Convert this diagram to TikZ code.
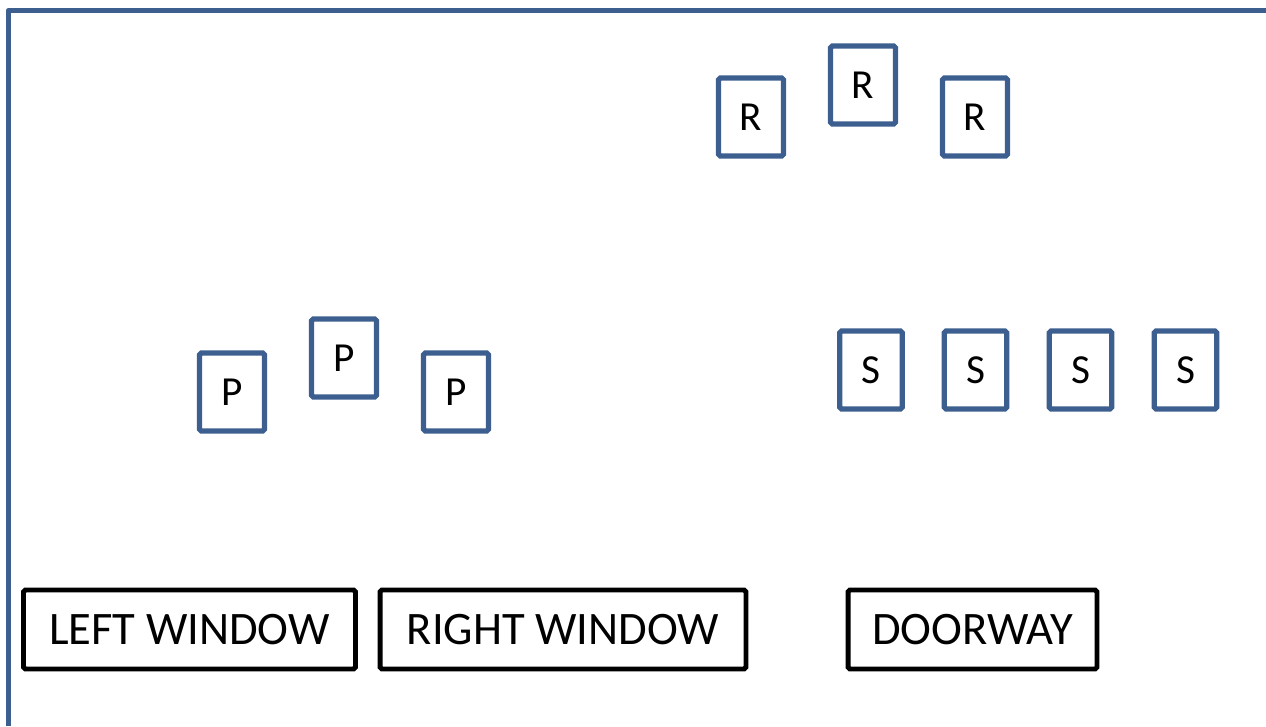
\documentclass[tikz,border=0pt]{standalone}
\usepackage{fontspec}
\setmainfont{Carlito}
\definecolor{wallblue}{HTML}{3C5F8F}

\begin{document}
\begin{tikzpicture}[x=0.02cm, y=-0.02cm,
  seat/.style={draw=wallblue, line width=3pt, rounded corners=1pt, minimum width=1.3cm, minimum height=1.56cm, inner sep=0pt, font=\fontsize{23.5}{27}\selectfont},
  opening/.style={draw=black, line width=2.8pt, rounded corners=1pt, minimum height=1.58cm, inner sep=0pt, font=\fontsize{26.5}{30}\selectfont}]
\useasboundingbox (0,0) rectangle (1266,726);
\draw[wallblue, line width=3.3pt, line join=round] (8.5,726) -- (8.5,10.5) -- (1266,10.5);
\node[seat] (r1) at (751,117) {R};
\node[seat] (r2) at (863,85) {R};
\node[seat] (r3) at (975,117) {R};
\node[seat] (p1) at (232,392) {P};
\node[seat] (p2) at (344,358) {P};
\node[seat] (p3) at (456,392) {P};
\node[seat, minimum width=1.25cm] (s1) at (871,370) {S};
\node[seat, minimum width=1.25cm] (s2) at (975.5,370) {S};
\node[seat, minimum width=1.25cm] (s3) at (1080.5,370) {S};
\node[seat, minimum width=1.25cm] (s4) at (1185.5,370) {S};
\node[opening, minimum width=6.64cm] (leftwin) at (189.5,629.5) {LEFT WINDOW};
\node[opening, minimum width=7.32cm] (rightwin) at (563,629.5) {RIGHT WINDOW};
\node[opening, minimum width=4.98cm] (door) at (972.5,629.5) {DOORWAY};
\end{tikzpicture}
\end{document}
